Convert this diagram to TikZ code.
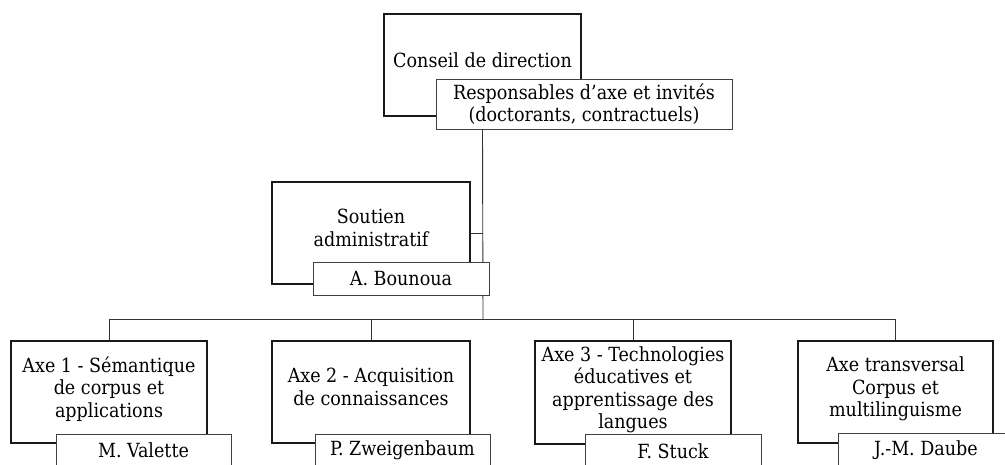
\documentclass[tikz,border=0pt]{standalone}
\usepackage{fontspec}
\setmainfont{DejaVu Serif Condensed}
\usetikzlibrary{backgrounds}

\tikzset{
  unitbox/.style={rectangle, draw=black!90, line width=1.8pt, minimum width=197pt, minimum height=102pt, inner xsep=0pt, text depth=10pt, align=center, font=\orgfont},
  namebox/.style={rectangle, draw=black!75, line width=0.9pt, fill=white, minimum width=176pt, minimum height=33pt, inner xsep=0pt, align=center, font=\orgfont},
  link/.style={draw=black!80, line width=0.9pt}
}
\newcommand{\orgfont}{\fontsize{19.5}{22.5}\selectfont}

\begin{document}
\begin{tikzpicture}[x=1pt,y=-1pt]

\useasboundingbox (0,0) rectangle (1005,465);
\clip (0,0) rectangle (1005,465);

% Direction
\draw (482.5,65) node [unitbox] (conseil) {Conseil de direction};
\draw (584,104) node [namebox, minimum width=296pt, minimum height=50pt] (resp) {Responsables d'axe et invités\\(doctorants, contractuels)};

% Soutien
\draw (371,233) node [unitbox, minimum width=198pt] (soutien) {Soutien\\administratif};
\draw (401,278.5) node [namebox] (bounoua) {A. Bounoua};

% Axes
\draw (109,392) node [unitbox, minimum width=196pt] (axeA) {Axe 1 - Sémantique\\de corpus et\\applications};
\draw (143.5,450.5) node [namebox, minimum width=175pt] (valette) {M. Valette};
\draw (371,392) node [unitbox, minimum width=198pt] (axeB) {Axe 2 - Acquisition\\de connaissances};
\draw (402.5,450.5) node [namebox, minimum width=175pt] (zweigenbaum) {P. Zweigenbaum};
\draw (633,392.5) node [unitbox, minimum width=196pt, minimum height=103pt] (axeC) {Axe 3 - Technologies\\éducatives et\\apprentissage des\\langues};
\draw (673,451) node [namebox] (stuck) {F. Stuck};
\draw (895.5,392) node [unitbox, minimum width=195pt] (axeT) {Axe transversal\\Corpus et\\multilinguisme};
\draw (926,450) node [namebox] (daube) {J.-M. Daube};

\coordinate (bus) at (483,319);

% Lines
\begin{scope}[on background layer]
\draw [link] (conseil.center |- resp.south)--(bus);
\draw [link] (soutien.east)--(soutien.east -| bus);
\draw [link] (axeA.north |- bus)--(axeT.north |- bus);
\draw [link] (axeA.north |- bus)--(axeA.north);
\draw [link] (axeB.north |- bus)--(axeB.north);
\draw [link] (axeC.north |- bus)--(axeC.north);
\draw [link] (axeT.north |- bus)--(axeT.north);
\end{scope}
\end{tikzpicture}
\end{document}
